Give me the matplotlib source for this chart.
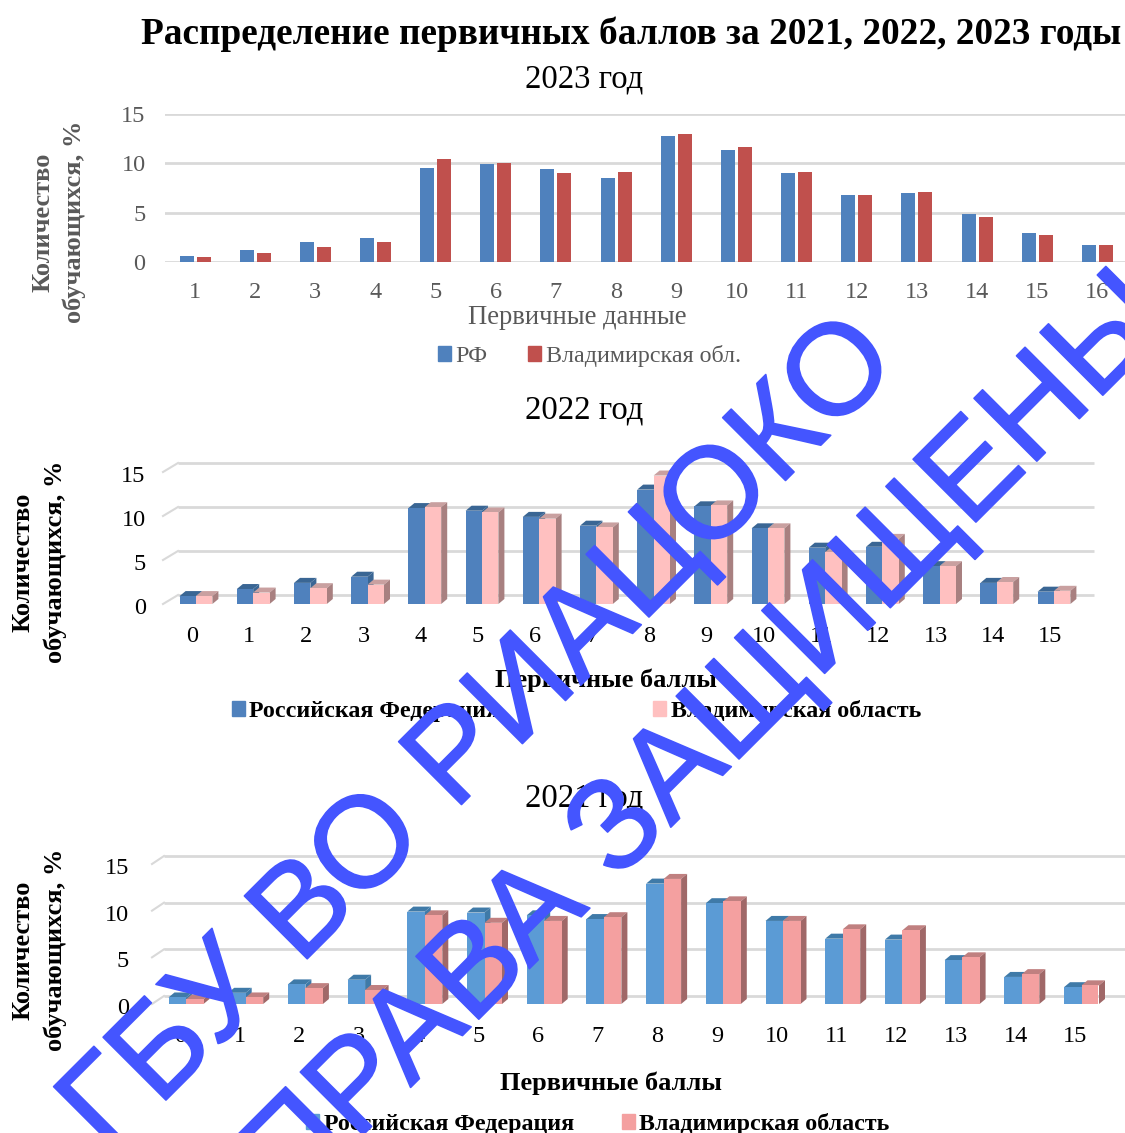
import matplotlib
matplotlib.use("Agg")
import matplotlib.pyplot as plt
import matplotlib.patheffects as pe
from matplotlib.patches import Patch
from matplotlib.transforms import Affine2D
import numpy as np

W, H = 1125, 1133
plt.rcParams['font.family'] = ['Liberation Serif', 'DejaVu Sans']

title = "Распределение первичных баллов за 2021, 2022, 2023 годы"
ylabel = "Количество\nобучающихся, %"

cats_2023 = list(range(1, 17))
rf_2023 = [0.6, 1.2, 2.0, 2.4, 9.5, 9.9, 9.4, 8.5, 12.8, 11.4, 9.0, 6.8, 7.0, 4.9, 2.9, 1.7]
vl_2023 = [0.5, 0.9, 1.5, 2.0, 10.4, 10.0, 9.0, 9.1, 13.0, 11.7, 9.1, 6.8, 7.1, 4.6, 2.7, 1.7]

cats_2022 = list(range(0, 16))
rf_2022 = [0.9, 1.7, 2.4, 3.1, 10.9, 10.6, 9.9, 8.9, 13.0, 11.1, 8.6, 6.4, 6.5, 4.3, 2.4, 1.4]
vl_2022 = [0.9, 1.3, 1.8, 2.2, 11.0, 10.4, 9.7, 8.7, 14.6, 11.2, 8.6, 5.9, 7.4, 4.3, 2.5, 1.5]

cats_2021 = list(range(0, 16))
rf_2021 = [0.7, 1.2, 2.1, 2.6, 9.9, 9.8, 9.5, 9.1, 12.9, 10.8, 8.9, 7.0, 6.9, 4.7, 2.9, 1.8]
vl_2021 = [0.5, 0.7, 1.7, 1.5, 9.5, 8.7, 8.9, 9.3, 13.4, 11.0, 8.9, 8.0, 7.9, 5.0, 3.2, 2.0]

fig = plt.figure(figsize=(W / 100, H / 100), dpi=100)


def fx(px):
    return px / W


def fy(py):
    return 1 - py / H


def make_axes(left, right, top, bottom):
    ax = fig.add_axes([fx(left), fy(bottom), (right - left) / W, (bottom - top) / H])
    for s in ax.spines.values():
        s.set_visible(False)
    ax.patch.set_alpha(0)
    ax.set_ylim(0, 15)
    ax.set_yticks([0, 5, 10, 15])
    ax.tick_params(length=0, labelsize=17.5)
    return ax


def shift_ylabels(ax, py):
    for lab in ax.get_yticklabels():
        lab.set_transform(lab.get_transform() + Affine2D().translate(0, -py))


def chart3d(ax, cats, a, b, ca, cb, top_a, top_b, side_a, side_b,
            bw, off, wall, bar_d, grid_right):
    """Bars with a drawn depth. bw, off in category units; wall, bar_d in px."""
    bb = ax.get_position()
    xl = ax.get_xlim()
    ux = (xl[1] - xl[0]) / (bb.width * W)
    uy = 15 / (bb.height * H)
    back = ax.transData + Affine2D().translate(wall[0], wall[1])
    for v in [0, 5, 10, 15]:
        ax.plot([xl[0], grid_right], [v, v], color='#D9D9D9', lw=2, transform=back,
                clip_on=False, zorder=1, solid_capstyle='butt')
        ax.plot([xl[0], xl[0] + wall[0] * ux], [v, v + wall[1] * uy], color='#D9D9D9',
                lw=1.5, clip_on=False, zorder=1)
    dx, dy = bar_d[0] * ux, bar_d[1] * uy
    for order, (vals, c, ct, cs, shift) in enumerate(
            [(a, ca, top_a, side_a, -bw + off), (b, cb, top_b, side_b, off)]):
        for x, v in zip(cats, vals):
            x0 = x + shift
            x1 = x0 + bw
            z = 3 + order
            ax.fill([x0, x1, x1 + dx, x0 + dx], [v, v, v + dy, v + dy], color=ct, lw=0, zorder=z, clip_on=False)
            ax.fill([x1, x1 + dx, x1 + dx, x1], [0, dy, v + dy, v], color=cs, lw=0, zorder=z, clip_on=False)
            ax.bar(x0, v, width=bw, align='edge', color=c, lw=0, zorder=z + 0.5)


def legend(labels, colors, cx, cy, tc, weight, spacing):
    handles = [Patch(color=c) for c in colors]
    fig.legend(handles, labels, loc='center', bbox_to_anchor=(fx(cx), fy(cy)),
               ncol=2, frameon=False, handlelength=0.54, handleheight=0.6, handletextpad=0.18,
               columnspacing=spacing, labelcolor=tc,
               prop={'family': 'Liberation Serif', 'size': 17.3, 'weight': weight})


fig.text(fx(631), fy(34), title, fontsize=26.85, fontweight='bold', ha='center', va='center')

# --- 2023
ax1 = make_axes(165, 1125, 114, 262)
ax1.set_xlim(0.5, 0.5 + 960 / 60.15)
ax1.set_xticks(cats_2023)
ax1.tick_params(axis='x', pad=14.5)
ax1.tick_params(axis='y', pad=14)
ax1.tick_params(colors='#595959')
ax1.yaxis.grid(True, color='#D9D9D9', lw=2)
ax1.set_axisbelow(True)
x1 = np.array(cats_2023)
bw1 = 14 / 60.15
ax1.bar(x1 - 8.5 / 60.15, rf_2023, width=bw1, color='#4F81BD', zorder=3)
ax1.bar(x1 + 8.5 / 60.15, vl_2023, width=bw1, color='#C0504D', zorder=3)
fig.text(fx(584), fy(79), "2023 год", fontsize=23.6, ha='center', va='center')
fig.text(fx(59), fy(222), ylabel, fontsize=19, fontweight='bold', color='#595959',
         rotation=90, ha='center', va='center', ma='center', linespacing=1.45)
fig.text(fx(577), fy(318), "Первичные данные", fontsize=19.2, color='#595959', ha='center', va='center')
legend(["РФ", "Владимирская обл."], ['#4F81BD', '#C0504D'], 589.5, 356, '#595959', 'normal', 1.7)

# --- 2022
ax2 = make_axes(163, 1080, 472, 604)
ax2.set_xlim((163 - 192) / 57.2, (1080 - 192) / 57.2)
ax2.set_xticks(cats_2022)
ax2.tick_params(axis='x', pad=15.5)
ax2.tick_params(axis='y', pad=12.5)
shift_ylabels(ax2, 2)
chart3d(ax2, cats_2022, rf_2022, vl_2022, '#4F81BD', '#FFC0C0', '#3A6694', '#C9A0A0', '#3A6694', '#A88080',
        16.4 / 57.2, 4 / 57.2, (15, 9), (6, 5), 15.5)
fig.text(fx(584), fy(410), "2022 год", fontsize=23.6, ha='center', va='center')
fig.text(fx(39.5), fy(562), ylabel, fontsize=19, fontweight='bold', rotation=90,
         ha='center', va='center', ma='center', linespacing=1.5)
fig.text(fx(606), fy(680), "Первичные баллы", fontsize=19, fontweight='bold', ha='center', va='center')
legend(["Российская Федерация", "Владимирская область"], ['#4F81BD', '#FFC0C0'], 576.5, 711, 'black', 'bold', 6.4)

# --- 2021
ax3 = make_axes(152, 1098, 864, 1004)
ax3.set_xlim((152 - 180) / 59.7, (1098 - 180) / 59.7)
ax3.set_xticks(cats_2021)
ax3.tick_params(axis='x', pad=15.5)
ax3.tick_params(axis='y', pad=16.5)
shift_ylabels(ax3, 2)
chart3d(ax3, cats_2021, rf_2021, vl_2021, '#5B9BD5', '#F4A0A0', '#3F7AA8', '#C08080', '#3F7AA8', '#A06868',
        17.5 / 59.7, 6 / 59.7, (12, 8), (6, 5), 15.8)
fig.text(fx(584), fy(798), "2021 год", fontsize=23.6, ha='center', va='center')
fig.text(fx(39.5), fy(950), ylabel, fontsize=19, fontweight='bold', rotation=90,
         ha='center', va='center', ma='center', linespacing=1.5)
fig.text(fx(611), fy(1083), "Первичные баллы", fontsize=19, fontweight='bold', ha='center', va='center')
legend(["Российская Федерация", "Владимирская область"], ['#5B9BD5', '#F4A0A0'], 598, 1124, 'black', 'bold', 2.0)

# --- watermark
wm = {'family': 'Liberation Sans', 'color': '#4455FF', 'fontsize': 93, 'rotation': 45,
      'rotation_mode': 'anchor', 'ha': 'left', 'va': 'baseline', 'zorder': 20}
stroke = [pe.withStroke(linewidth=1.2, foreground='#4455FF')]
fig.text(fx(109), fy(1157), "ГБУ ВО РИАЦОКО", path_effects=stroke, **wm)
fig.text(fx(290), fy(1208), "ПРАВА ЗАЩИЩЕНЫ", path_effects=stroke, **wm)

fig.savefig("out.png", dpi=100)
